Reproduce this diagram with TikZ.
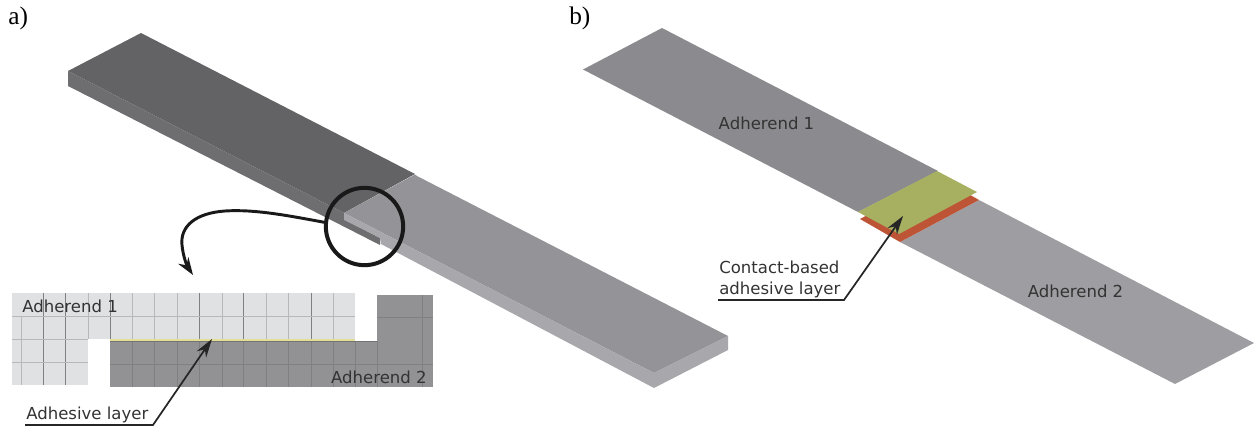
\documentclass[tikz,border=0pt]{standalone}
\usepackage{fontspec}
\setmainfont{Liberation Serif}
\newfontfamily\labelfont{DejaVu Sans}
\usetikzlibrary{arrows.meta}
\definecolor{darktop}{RGB}{99,99,101}
\definecolor{darkside}{RGB}{110,110,113}
\definecolor{lighttop}{RGB}{148,148,152}
\definecolor{lightside}{RGB}{168,168,172}
\definecolor{plateA}{RGB}{139,139,143}
\definecolor{plateB}{RGB}{158,158,162}
\definecolor{glue}{RGB}{166,176,96}
\definecolor{redglue}{RGB}{190,84,54}
\definecolor{paleblock}{RGB}{224,225,227}
\definecolor{darkblock}{RGB}{146,146,149}
\definecolor{seam}{RGB}{226,222,150}
\tikzset{
  x=0.75pt,y=-0.75pt,
  panel/.style={font=\fontsize{19}{21}\selectfont,inner sep=0pt},
  biglab/.style={font=\labelfont\fontsize{12.4}{15.5}\selectfont,text=black!80,inner sep=0pt},
  leader/.style={draw=black!85,line width=1.3pt},
  tip/.style={-{Stealth[length=14pt,width=8.5pt]}},
  gridline/.style={draw=black!50,line width=0.5pt},
  faint/.style={draw=black!28,line width=0.5pt},
  ring/.style={draw=black!90,line width=3pt,fill=none}
}
\begin{document}
\begin{tikzpicture}
\useasboundingbox (0,0) rectangle (1254,428);
\node[panel,anchor=base west] (pa) at (8,25) {a)};
\node[panel,anchor=base west] (pb) at (569,25) {b)};
% plate a
\fill[darktop] (68,71) -- (141,33) -- (415,174) -- (344,213) -- cycle;
\fill[darkside] (68,71) -- (68,86) -- (380,245) -- (380,238) -- (344,219) -- (344,213) -- cycle;
\fill[lighttop] (344,213) -- (415,174.5) -- (417,176) -- (728,336) -- (654,373) -- cycle;
\fill[lightside] (344,213) -- (344,220) -- (380,238) -- (381,244) -- (654,388) -- (728,350) -- (728,336) -- (654,373) -- cycle;
% ring and curved arrow
\node[ring,circle,minimum size=58pt,inner sep=0pt] (ring) at (364.5,226.5) {};
\coordinate (curvetip) at (193,275);
\draw[black!90,line width=2.2pt,-{Stealth[length=13pt,width=9pt]}] (ring.174) .. controls (290,216) and (255,209) .. (225,211) .. controls (196,213) and (180,226) .. (182,245) .. controls (183,256) and (187,266) .. (curvetip);
% inset
\fill[paleblock] (12,293) rectangle (355,339);
\fill[paleblock] (12,339) rectangle (88,385);
\fill[darkblock] (110,341) rectangle (433,387);
\fill[darkblock] (377,295) rectangle (433,341);
\foreach \x in {132,154,177,222,266,288,333} \draw[faint] (\x,293) -- (\x,339);
\draw[faint] (21,316) -- (21,385) (88,293) -- (88,339);
\draw[gridline] (43,293) -- (43,385) (65.7,293) -- (65.7,385);
\foreach \x in {110,199,243,311} \draw[gridline] (\x,293) -- (\x,339);
\foreach \x in {132,154,177,199,222,243,266,288,311,333,355,377,422} \draw[gridline] (\x,341) -- (\x,387);
\draw[faint] (12,316) -- (355,316) (12,339) -- (88,339) (12,362) -- (88,362);
\draw[gridline] (110,364) -- (433,364) (377,317) -- (433,317) (422,295) -- (422,341);
\fill[seam] (110,338.5) rectangle (355,340.5);
\draw[black!55,line width=0.5pt] (110,341) -- (377,341);
\node[biglab,anchor=west] (a1) at (22,306) {Adherend 1};
\node[biglab,anchor=east] (a2) at (427,377) {Adherend 2};
\node[biglab,anchor=south west] (al) at (26,423) {Adhesive layer};
\coordinate (alstart) at (25,425);
\coordinate (albend) at (153,425);
\coordinate (altip) at (212,339);
\draw[leader,tip] (alstart) -- (albend) -- (altip);
% panel b
\fill[plateA] (583,69.5) -- (662,28) -- (938,171) -- (858,212) -- cycle;
\fill[plateB] (900,242) -- (979,200) -- (1254,343) -- (1175,384) -- cycle;
\fill[redglue] (860,219) -- (900,242) -- (979,200) -- (939,177) -- cycle;
\fill[glue] (858,212) -- (937,171) -- (977,192) -- (899,234) -- cycle;
\node[biglab] (b1) at (766.5,123) {Adherend 1};
\node[biglab] (b2) at (1075.5,291) {Adherend 2};
\node[biglab,anchor=south west,align=left] (bl) at (719,298) {Contact-based\\adhesive layer};
\coordinate (blstart) at (718,300);
\coordinate (blbend) at (844,300);
\coordinate (bltip) at (903,216);
\draw[leader,tip] (blstart) -- (blbend) -- (bltip);
\end{tikzpicture}
\end{document}
